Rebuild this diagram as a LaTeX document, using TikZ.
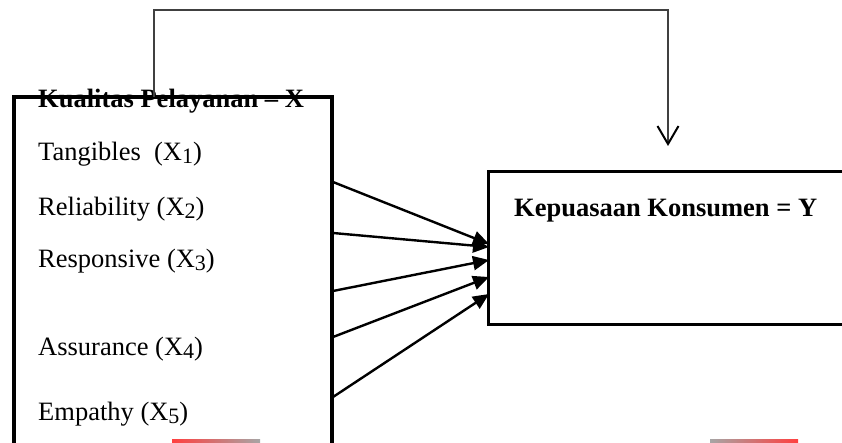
\documentclass[tikz,border=0pt]{standalone}
\usepackage{fontspec}
\setmainfont{Liberation Serif}
\usetikzlibrary{arrows.meta}
\newcommand{\xsub}[1]{\raisebox{-3pt}{\fontsize{22}{22}\selectfont #1}}
\begin{document}
\begin{tikzpicture}[x=1pt,y=-1pt,
  lbl/.style={anchor=base west, inner sep=0pt, font=\fontsize{26.5}{30}\selectfont},
  ttl/.style={anchor=base west, inner sep=0pt, font=\fontsize{26.5}{30}\selectfont\bfseries},
  fan/.style={line width=2.4pt, -{Triangle[length=16pt,width=14pt]}},
  fb/.style={line width=1.6pt, draw=black!75, -{Straight Barb[length=18pt,width=21pt,line width=2pt,color=black]}},
  boxX/.style={draw, line width=4pt, outer sep=0pt, inner sep=0pt, anchor=north west},
  boxY/.style={draw, line width=3pt, outer sep=0pt, inner sep=0pt, anchor=north west}]
\useasboundingbox (0,0) rectangle (842,443);
\clip (0,0) rectangle (842,443);
% boxes
\node[boxX, minimum width=318pt, minimum height=380pt] (X) at (14,97) {};
\node[boxY, minimum width=400pt, minimum height=152pt] (Y) at (488,172) {};
% labels
\node[ttl] (tX) at (38,108) {Kualitas Pelayanan -- X};
\node[lbl] (x1) at (38,161) {Tangibles\ \ (X\xsub{1})};
\node[lbl] (x2) at (38,216) {Reliability (X\xsub{2})};
\node[lbl] (x3) at (38,268) {Responsive (X\xsub{3})};
\node[lbl] (x4) at (38,355) {Assurance (X\xsub{4})};
\node[lbl] (x5) at (38,420) {Empathy (X\xsub{5})};
\node[ttl] (tY) at (514,217) {Kepuasaan Konsumen = Y};
% feedback connector
\coordinate (fbA) at (154,97);
\coordinate (fbB) at (668,146);
\draw[fb] (fbA) -- (154,10) -| (fbB);
% fan arrows
\coordinate (s1) at (333,182);
\coordinate (s2) at (333,233);
\coordinate (s3) at (333,291);
\coordinate (s4) at (333,337);
\coordinate (s5) at (333,397);
\coordinate (e1) at (489,244);
\coordinate (e2) at (489,247);
\coordinate (e3) at (489,260);
\coordinate (e4) at (489,277);
\coordinate (e5) at (489,294);
\foreach \i in {1,...,5} {\draw[fan] (s\i) -- (e\i);}
% red marks at bottom
\shade[left color=red!75!white, middle color=red!70!white, right color=black!35] (172,439) rectangle (260,443);
\shade[left color=black!35, middle color=red!70!white, right color=red!75!white] (710,439.5) rectangle (798,443);
\end{tikzpicture}
\end{document}
